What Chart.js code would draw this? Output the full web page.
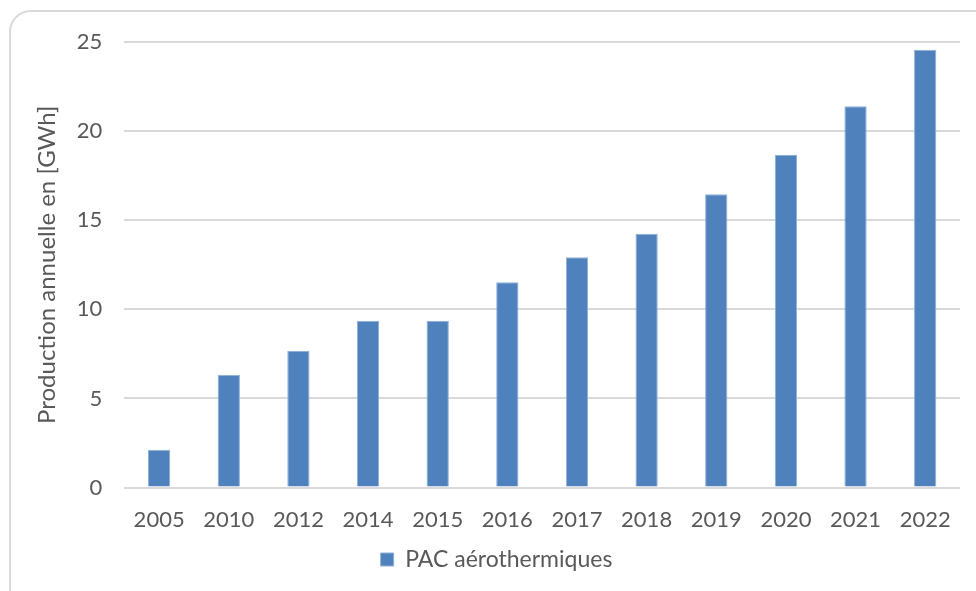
<!DOCTYPE html>
<html>
<head>
<meta charset="utf-8">
<script src="https://cdn.jsdelivr.net/npm/chart.js@4"></script>
<style>
  html, body { margin: 0; padding: 0; background: #fff; overflow: hidden; }
  #frame {
    position: absolute; left: 9px; top: 10px; width: 1040px; height: 640px;
    border: 2px solid #d9d9d9; border-radius: 22px; box-sizing: border-box;
  }
  #wrap { position: absolute; left: 0; top: 0; width: 1024px; height: 591px; }
</style>
</head>
<body>
<div id="frame"></div>
<div id="wrap"><canvas id="prodChart"></canvas></div>
<script>
const years = ["2005", "2010", "2012", "2014", "2015", "2016", "2017", "2018", "2019", "2020", "2021", "2022"];
const pacValues = [2.13, 6.33, 7.66, 9.36, 9.36, 11.52, 12.92, 14.24, 16.46, 18.67, 21.4, 24.57];
const seriesName = "PAC aérothermiques";
const yTitle = "Production annuelle en [GWh]";

const ctx = document.getElementById("prodChart").getContext("2d");
new Chart(ctx, {
  type: "bar",
  data: {
    labels: years,
    datasets: [
      {
        label: seriesName,
        data: pacValues,
        backgroundColor: "#4f81bd",
        borderColor: "#8fb0d9",
        borderWidth: 1,
        categoryPercentage: 1,
        barPercentage: 0.32,
      },
    ],
  },
  options: {
    responsive: true,
    maintainAspectRatio: false,
    animation: false,
    layout: {
      padding: { left: 33, right: 64, top: 42, bottom: 10 },
    },
    scales: {
      x: {
        grid: { display: false },
        border: { display: false },
        ticks: {
          color: "#595959",
          font: { family: "Lato", size: 22 },
          padding: 11,
          maxRotation: 0,
        },
      },
      y: {
        min: 0,
        max: 25,
        ticks: {
          stepSize: 5,
          color: "#595959",
          font: { family: "Lato", size: 22 },
          padding: 22,
        },
        grid: { color: "#d9d9d9", lineWidth: 2, drawTicks: false },
        border: { display: false },
        title: {
          display: true,
          text: yTitle,
          color: "#595959",
          font: { family: "Lato", size: 24 },
          padding: { top: 0, bottom: -7 },
        },
      },
    },
    plugins: {
      legend: {
        position: "bottom",
        labels: {
          boxWidth: 13,
          boxHeight: 13,
          padding: 4,
          color: "#595959",
          font: { family: "Lato", size: 23 },
        },
      },
      tooltip: { enabled: false },
    },
  },
});
</script>
</body>
</html>
